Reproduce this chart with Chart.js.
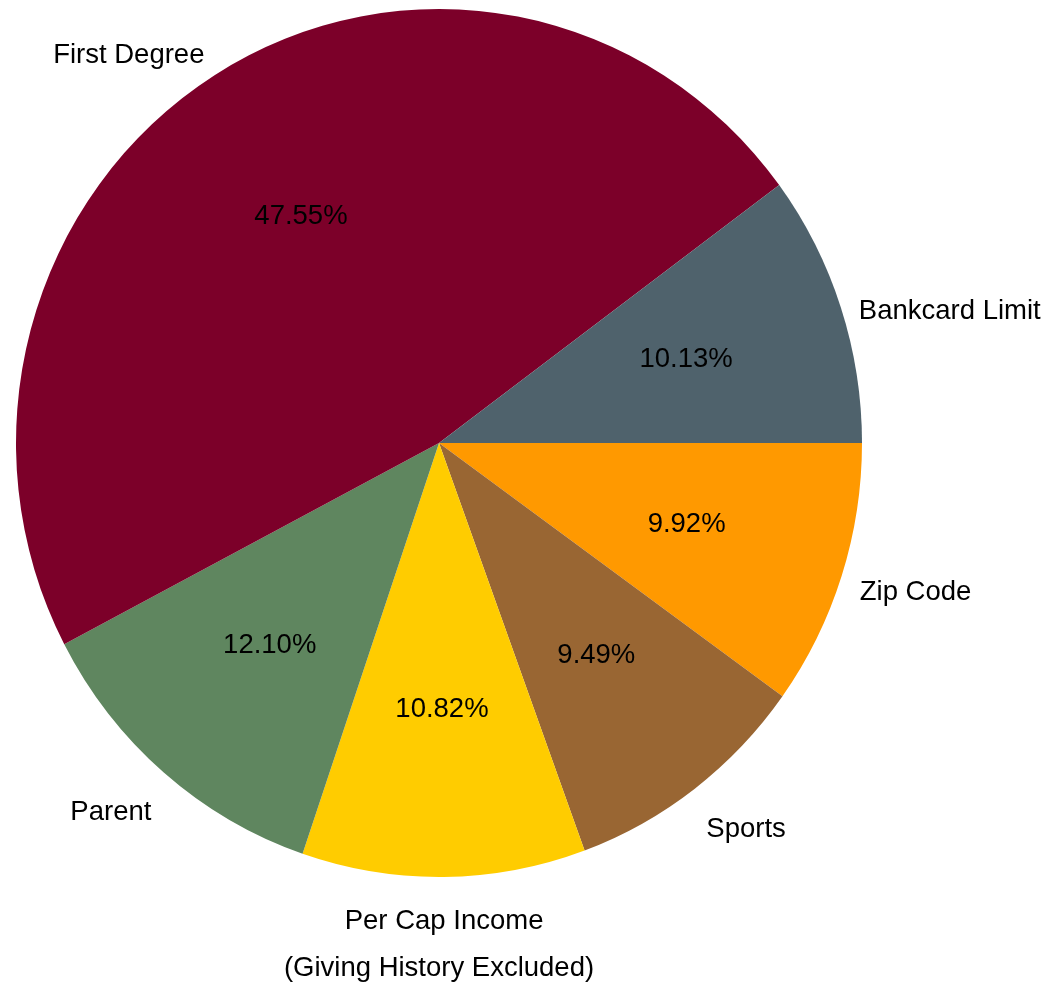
<!DOCTYPE html>
<html>
<head>
<meta charset="utf-8">
<title>Giving score components</title>
<script src="https://cdn.jsdelivr.net/npm/chart.js@4/dist/chart.umd.min.js"></script>
<style>
  html, body { margin: 0; padding: 0; background: #fff; }
  #wrap { width: 1047px; height: 987px; position: relative; }
</style>
</head>
<body>
<div id="wrap"><canvas id="pie"></canvas></div>
<script>
// Share of each predictor (percent), listed counter-clockwise from 3 o'clock
const categories = ['Bankcard Limit', 'First Degree', 'Parent', 'Per Cap Income', 'Sports', 'Zip Code'];
const shares = [10.13, 47.55, 12.10, 10.82, 9.49, 9.92];
const sliceColors = ['#4F626C', '#7C0029', '#5F865F', '#FFCC00', '#996633', '#FF9900'];
const caption = '(Giving History Excluded)';

const FONT = '"Liberation Sans", Arial, sans-serif';
const Y_STRETCH = 1.026; // pie is a touch taller than wide

// Chart.js goes clockwise, so feed the slices in reverse starting at 3 o'clock
const labelsCw = categories.slice().reverse();
const dataCw = shares.slice().reverse();
const colorsCw = sliceColors.slice().reverse();

const stretchPlugin = {
    id: 'stretch',
    beforeDatasetsDraw(chart) {
        const arc = chart.getDatasetMeta(0).data[0];
        const ctx = chart.ctx;
        ctx.save();
        ctx.translate(arc.x, arc.y);
        ctx.scale(1, Y_STRETCH);
        ctx.translate(-arc.x, -arc.y);
    },
    afterDatasetsDraw(chart) {
        chart.ctx.restore();
    }
};

const sliceLabels = {
    id: 'sliceLabels',
    afterDraw(chart) {
        const ctx = chart.ctx;
        const meta = chart.getDatasetMeta(0);
        ctx.save();
        ctx.fillStyle = '#000';
        ctx.font = '27.5px ' + FONT;
        meta.data.forEach((arc, i) => {
            const mid = (arc.startAngle + arc.endAngle) / 2;
            const c = Math.cos(mid), s = Math.sin(mid);
            const r = arc.outerRadius;

            // percentage inside the slice
            ctx.textAlign = 'center';
            ctx.textBaseline = 'middle';
            ctx.fillText(dataCw[i].toFixed(2) + '%',
                arc.x + c * r * 0.615, arc.y + s * r * 0.615 * Y_STRETCH);

            // category name just outside the rim
            let x = arc.x + c * r * 1.045;
            let y = arc.y + s * r * 1.045 * Y_STRETCH;
            ctx.textAlign = c > 0.3 ? 'left' : (c < -0.3 ? 'right' : 'center');
            if (s > 0.5) { ctx.textBaseline = 'top'; y += 11; }
            else if (s < -0.5) { ctx.textBaseline = 'alphabetic'; y += 4; }
            else { ctx.textBaseline = 'middle'; y += 10; }
            ctx.fillText(labelsCw[i], x, y);
        });
        ctx.restore();
    }
};

new Chart(document.getElementById('pie'), {
    type: 'pie',
    data: {
        labels: labelsCw,
        datasets: [{
            data: dataCw,
            backgroundColor: colorsCw,
            borderWidth: 0,
            hoverOffset: 0,
            offset: 0,
            clip: false
        }]
    },
    options: {
        responsive: true,
        maintainAspectRatio: false,
        animation: false,
        rotation: 90,
        radius: 423,
        layout: { padding: { left: 16, right: 185, top: 20, bottom: 2 } },
        plugins: {
            legend: { display: false },
            tooltip: { enabled: false },
            title: {
                display: true,
                position: 'bottom',
                text: caption,
                color: '#000',
                font: { family: FONT, size: 27.5, weight: 'normal', lineHeight: 1.2 },
                padding: { top: 86, bottom: 0 }
            }
        },
        events: []
    },
    plugins: [stretchPlugin, sliceLabels]
});
</script>
</body>
</html>
